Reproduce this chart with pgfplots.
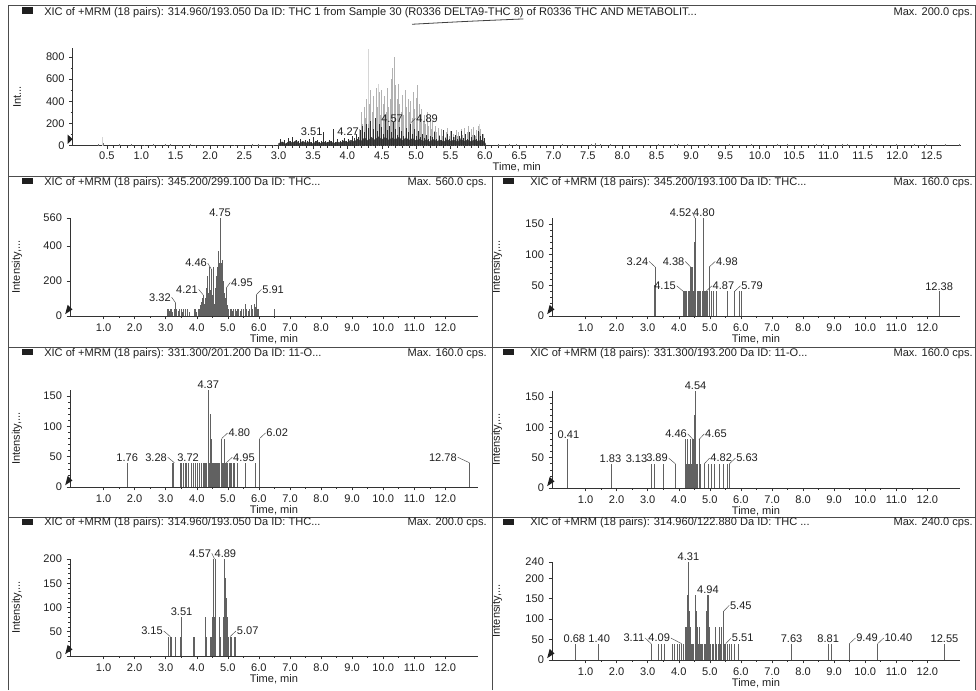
\documentclass[border=0pt]{standalone}
\usepackage{fontspec}
\setmainfont{Liberation Sans}
\usepackage{pgfplots}
\pgfplotsset{compat=1.18}
\newcommand\chf{\fontsize{8.3}{9.5}\selectfont}
\definecolor{ink}{gray}{0.12}
\newcommand\pkT[3]{\node[font=\chf, text=ink, anchor=south, inner sep=0.8pt] at (axis cs:#1,#2) {#3};}
\newcommand\pkL[4]{\draw[black!70, line width=0.35pt] (axis cs:#1,#2) -- ++(#4,4.2pt) node[anchor=east, inner sep=0.5pt, font=\chf, text=ink] {#3};}
\newcommand\pkR[4]{\draw[black!70, line width=0.35pt] (axis cs:#1,#2) -- ++(#4,4.2pt) node[anchor=west, inner sep=0.5pt, font=\chf, text=ink] {#3};}
\newcommand\tri{\fill[ink] (axis description cs:0,0) ++(-3.6pt,1.4pt) -- ++(0,7pt) -- ++(3.6pt,-3.5pt) -- cycle;}
\pgfplotsset{
  chrom/.style={
    scale only axis, clip=false,
    axis x line*=bottom, axis y line*=left,
    axis line style={black!80, line width=0.5pt, -},
    every tick/.style={black!80, line width=0.4pt},
    tick align=outside, major tick length=2.5pt, minor tick length=1.4pt,
    ymin=0, scaled ticks=false,
    /pgf/number format/assume math mode=true,
    tick label style={font=\chf, text=ink},
    label style={font=\chf, text=ink},
    xticklabel style={/pgf/number format/fixed, /pgf/number format/fixed zerofill, /pgf/number format/precision=1},
    yticklabel style={/pgf/number format/fixed, /pgf/number format/precision=0},
    xlabel={Time, min},
  },
  low/.style={chrom, width=306pt, xmin=-0.08, xmax=13.05,
    xtick={1,2,...,12}, minor x tick num=1, ylabel={Intensity,...},
    xlabel style={at={(axis description cs:0.5,-0.24)}, anchor=center},
    ylabel style={at={(axis description cs:-0.13,0.5)}, anchor=center}},
  stick/.style={ycomb, black!62, line width=0.6pt},
}
\begin{document}
\begin{tikzpicture}
\useasboundingbox (0,0) rectangle (732pt,517.5pt);
% ---------------- top panel ----------------
\begin{axis}[chrom, at={(54.4pt,408.2pt)}, anchor=south west,
  width=666.4pt, height=73.3pt, xmin=0, xmax=12.93, ymax=880,
  xtick={0.5,1,...,12.5}, minor x tick num=4,
  ytick={0,200,400,600,800}, minor y tick num=1,
  xticklabel style={yshift=1.2pt},
  ylabel={Int...},
  xlabel style={at={(axis description cs:0.5,-0.222)}, anchor=center},
  ylabel style={at={(axis description cs:-0.0625,0.5)}, anchor=center}]
\addplot[ycomb, black!16, line width=0.5pt] coordinates {(0.43,75)(4.30,875)(4.45,560)(5.92,200)};
\addplot[ycomb, black!55, line width=0.4pt] coordinates {
(0.38,15)(0.45,25)(0.68,12)(0.85,15)(1.05,8)(1.18,15)(1.35,18)(1.42,14)(1.60,10)(1.72,14)(1.78,10)(1.90,8)
(2.35,10)(2.62,14)(2.70,12)(2.92,10)(6.20,15)(6.35,20)(6.45,15)(6.62,10)(7.12,18)(7.55,15)(7.60,25)(7.68,18)
(7.82,12)(8.52,14)(8.75,20)(8.82,15)(8.95,14)(9.25,12)(9.55,12)(9.88,14)(10.25,12)(10.40,20)(10.82,14)
(10.92,18)(11.20,14)(11.28,20)(11.62,12)(11.98,14)(12.25,18)(12.42,14)(12.70,18)(12.90,20)};
\addplot[ycomb, black!30, line width=0.55pt] coordinates {
(4.18,150)(4.20,300)(4.22,200)(4.24,350)(4.26,250)(4.28,420)(4.30,200)(4.32,380)(4.34,500)(4.36,300)
(4.38,450)(4.40,250)(4.42,520)(4.44,350)(4.46,480)(4.48,280)(4.50,500)(4.52,380)(4.54,450)(4.56,300)
(4.58,520)(4.60,350)(4.62,420)(4.64,600)(4.66,700)(4.68,800)(4.70,550)(4.72,420)(4.74,560)(4.76,380)
(4.78,300)(4.80,460)(4.82,280)(4.84,500)(4.86,350)(4.88,420)(4.90,300)(4.92,400)(4.94,250)(4.96,480)
(4.98,330)(5.00,430)(5.02,550)(5.04,380)(5.06,250)(5.08,330)(5.10,220)(5.12,280)(5.14,200)(5.16,300)
(5.18,180)(5.20,250)(5.22,150)(5.24,220)(5.26,130)(5.28,180)(5.30,120)(5.32,160)(5.34,100)(5.36,150)
(5.38,90)(5.40,130)(5.42,80)(5.44,120)(5.46,160)(5.48,90)(5.50,130)(5.52,70)(5.54,110)(5.56,80)
(5.58,140)(5.60,90)(5.62,120)(5.64,70)(5.66,150)(5.68,100)(5.70,160)(5.72,80)(5.74,120)(5.76,180)
(5.78,90)(5.80,150)(5.82,100)(5.84,170)(5.86,90)(5.88,140)(5.90,180)(5.92,120)(5.94,150)(5.96,90)
(5.98,110)(6.00,60)};
\addplot[fill=black!75, draw=black!75, line width=0.3pt] coordinates {
(3.00,20)(3.05,35)(3.10,15)(3.15,40)(3.20,25)(3.25,45)(3.30,20)(3.35,40)(3.40,25)(3.45,35)(3.50,15)
(3.55,40)(3.60,20)(3.65,35)(3.70,25)(3.75,40)(3.80,20)(3.85,35)(3.90,25)(3.95,45)(4.00,30)(4.05,50)
(4.10,35)(4.15,60)(4.20,40)(4.25,70)(4.30,45)(4.35,75)(4.40,50)(4.45,80)(4.50,55)(4.55,75)(4.60,50)
(4.65,70)(4.70,55)(4.75,75)(4.80,45)(4.85,70)(4.90,50)(4.95,65)(5.00,45)(5.05,60)(5.10,40)(5.15,55)
(5.20,35)(5.25,55)(5.30,40)(5.35,50)(5.40,35)(5.45,55)(5.50,40)(5.55,50)(5.60,35)(5.65,55)(5.70,40)
(5.75,50)(5.80,35)(5.85,55)(5.90,40)(5.95,50)(6.00,30)(6.02,0)} \closedcycle;
\addplot[ycomb, black!82, line width=0.45pt] coordinates {
(3.02,60)(3.05,35)(3.08,50)(3.11,25)(3.14,70)(3.17,40)(3.20,75)(3.23,30)(3.26,55)(3.29,45)(3.32,65)
(3.35,30)(3.38,50)(3.41,40)(3.44,60)(3.47,35)(3.50,80)(3.53,40)(3.56,55)(3.59,30)(3.62,45)(3.65,120)
(3.68,40)(3.71,30)(3.74,55)(3.77,45)(3.80,150)(3.83,35)(3.86,60)(3.89,40)(3.92,50)(3.95,70)(3.98,45)
(4.01,60)(4.04,35)(4.07,90)(4.10,70)(4.13,110)(4.16,80)(4.19,140)(4.22,180)(4.25,120)(4.28,200)
(4.31,160)(4.34,220)(4.37,150)(4.40,250)(4.43,130)(4.46,200)(4.49,170)(4.52,110)(4.55,230)(4.58,140)
(4.61,180)(4.64,120)(4.67,210)(4.70,150)(4.73,100)(4.76,170)(4.79,130)(4.82,90)(4.85,160)(4.88,120)
(4.91,200)(4.94,110)(4.97,150)(5.00,90)(5.03,130)(5.06,80)(5.09,110)(5.12,70)(5.15,100)(5.18,60)
(5.21,90)(5.24,75)(5.27,120)(5.30,60)(5.33,85)(5.36,50)(5.39,140)(5.42,70)(5.45,110)(5.48,60)
(5.51,130)(5.54,80)(5.57,100)(5.60,60)(5.63,90)(5.66,130)(5.69,70)(5.72,110)(5.75,60)(5.78,120)
(5.81,80)(5.84,100)(5.87,60)(5.90,130)(5.93,90)(5.96,110)(5.99,70)};
\node[font=\chf, text=ink] at (axis cs:3.48,126) {3.51};
\node[font=\chf, text=ink] at (axis cs:4.01,126) {4.27};
\node[font=\chf, text=ink] at (axis cs:4.65,246) {4.57};
\node[font=\chf, text=ink, inner sep=0.6pt] (p489) at (axis cs:5.16,246) {4.89};
\draw[black!70, line width=0.35pt] (p489.west) -- ++(-3pt,-3pt);
\tri
\end{axis}
% ---------------- row 2 left ----------------
\begin{axis}[low, at={(52.5pt,280.5pt)}, anchor=south west, height=73.5pt,
  ymax=560, ytick={0,200,400,560}, minor y tick num=3]
\addplot[stick] coordinates {
(3.06,40)(3.09,40)(3.12,30)(3.15,40)(3.19,40)(3.23,25)(3.27,40)(3.32,75)(3.36,40)(3.40,30)(3.44,40)
(3.49,40)(3.53,25)(3.58,40)(3.62,40)(3.70,40)(3.75,20)(3.92,40)(3.96,40)(4.00,25)(4.04,40)(4.08,40)
(4.12,60)(4.15,80)(4.18,100)(4.21,120)(4.24,70)(4.27,100)(4.30,160)(4.33,230)(4.36,130)(4.39,200)
(4.42,280)(4.44,150)(4.46,270)(4.49,120)(4.52,280)(4.55,110)(4.58,70)(4.61,160)(4.64,230)(4.66,280)
(4.68,250)(4.70,370)(4.72,300)(4.75,560)(4.77,420)(4.79,300)(4.81,320)(4.83,240)(4.85,200)(4.87,170)
(4.89,130)(4.92,100)(4.95,160)(4.98,60)(5.03,40)(5.07,40)(5.11,40)(5.15,30)(5.19,40)(5.23,40)(5.27,30)
(5.31,40)(5.35,40)(5.40,30)(5.45,40)(5.50,40)(5.55,70)(5.60,40)(5.65,30)(5.70,40)(5.75,60)(5.80,40)
(5.85,70)(5.88,50)(5.91,120)(5.94,40)(5.98,40)(6.50,40)};
\pkT{4.75}{560}{4.75}
\pkL{4.46}{270}{4.46}{-2.5pt}
\pkL{4.21}{120}{4.21}{-3.5pt}
\pkL{3.32}{75}{3.32}{-3pt}
\pkR{4.95}{160}{4.95}{3pt}
\pkR{5.91}{120}{5.91}{4pt}
\tri
\end{axis}
% ---------------- row 2 right ----------------
\begin{axis}[low, at={(414pt,280.5pt)}, anchor=south west, height=73.5pt,
  ymax=160, ytick={0,50,100,150}, minor y tick num=4,
  ylabel style={at={(axis description cs:-0.135,0.5)}}]
\addplot[stick] coordinates {
(3.22,50)(3.24,80)(4.15,40)(4.18,40)(4.22,40)(4.26,40)(4.30,40)(4.34,40)(4.37,80)(4.39,80)(4.41,80)
(4.43,80)(4.45,80)(4.47,40)(4.50,120)(4.52,160)(4.55,40)(4.59,40)(4.63,40)(4.67,40)(4.71,40)(4.75,40)
(4.78,40)(4.80,160)(4.83,40)(4.86,40)(4.89,40)(4.93,40)(4.98,80)(5.05,40)(5.12,40)(5.22,40)(5.58,40)
(5.79,40)(5.95,40)(6.00,40)(12.38,40)};
\pkL{4.52}{160}{4.52}{-2pt}
\pkT{4.81}{160}{4.80}
\pkL{3.24}{80}{3.24}{-4.5pt}
\pkL{4.38}{80}{4.38}{-4pt}
\pkR{4.98}{80}{4.98}{4.5pt}
\pkL{4.15}{40}{4.15}{-5pt}
\pkR{4.87}{40}{4.87}{4.5pt}
\pkR{5.79}{40}{5.79}{4.5pt}
\pkT{12.38}{40}{12.38}
\tri
\end{axis}
% ---------------- row 3 left ----------------
\begin{axis}[low, at={(52.5pt,152.2pt)}, anchor=south west, height=72.75pt,
  ymax=160, ytick={0,50,100,150}, minor y tick num=4]
\addplot[stick] coordinates {
(1.76,40)(3.20,40)(3.26,40)(3.46,40)(3.50,40)(3.56,40)(3.62,40)(3.68,40)(3.74,40)(3.82,40)(3.88,40)
(3.95,40)(4.02,40)(4.08,40)(4.14,40)(4.20,40)(4.25,40)(4.29,40)(4.32,40)(4.37,160)(4.40,40)(4.43,120)
(4.45,80)(4.47,80)(4.50,40)(4.53,40)(4.56,40)(4.59,40)(4.62,40)(4.66,40)(4.70,40)(4.74,40)(4.80,80)
(4.83,40)(4.86,40)(4.88,80)(4.91,40)(4.95,40)(5.00,40)(5.04,40)(5.08,40)(5.12,40)(5.17,40)(5.22,40)
(5.30,40)(5.55,40)(5.88,40)(6.02,80)(12.78,40)};
\pkT{4.37}{160}{4.37}
\pkR{4.80}{80}{4.80}{4.5pt}
\pkR{6.02}{80}{6.02}{4.5pt}
\pkT{1.76}{40}{1.76}
\pkL{3.28}{40}{3.28}{-5pt}
\pkT{3.72}{40}{3.72}
\pkR{4.95}{40}{4.95}{4.5pt}
\pkL{12.78}{40}{12.78}{-9pt}
\tri
\end{axis}
% ---------------- row 3 right ----------------
\begin{axis}[low, at={(414pt,151.5pt)}, anchor=south west, height=72.75pt,
  ymax=160, ytick={0,50,100,150}, minor y tick num=4,
  ylabel style={at={(axis description cs:-0.135,0.5)}}]
\addplot[stick] coordinates {
(0.41,80)(1.83,40)(3.13,40)(3.22,40)(3.52,40)(3.89,40)(4.20,80)(4.22,40)(4.25,40)(4.28,80)(4.31,40)
(4.34,40)(4.36,80)(4.39,40)(4.43,80)(4.46,80)(4.49,120)(4.51,120)(4.54,160)(4.57,40)(4.60,40)(4.65,80)
(4.70,40)(4.82,40)(4.95,40)(5.05,40)(5.15,40)(5.30,40)(5.45,40)(5.55,40)(5.63,40)};
\pkT{4.54}{160}{4.54}
\pkT{0.45}{80}{0.41}
\pkT{1.80}{40}{1.83}
\pkT{2.64}{40}{3.13}
\pkL{3.89}{40}{3.89}{-5pt}
\pkL{4.46}{80}{4.46}{-4pt}
\pkR{4.65}{80}{4.65}{4pt}
\pkR{4.82}{40}{4.82}{4pt}
\pkR{5.63}{40}{5.63}{4.5pt}
\tri
\end{axis}
% ---------------- row 4 left ----------------
\begin{axis}[low, at={(52.5pt,25.5pt)}, anchor=south west, height=72.75pt,
  ymax=200, ytick={0,50,100,150,200}, minor y tick num=4]
\addplot[stick] coordinates {
(3.08,40)(3.15,40)(3.18,40)(3.32,40)(3.48,40)(3.51,80)(3.90,40)(3.93,40)(4.27,80)(4.30,40)(4.45,40)
(4.48,40)(4.51,80)(4.53,40)(4.55,200)(4.57,80)(4.60,200)(4.72,80)(4.75,40)(4.86,80)(4.88,80)(4.89,200)
(4.91,80)(4.93,160)(4.95,120)(4.97,80)(5.02,40)(5.07,40)(5.10,40)(5.20,40)(5.23,40)};
\pkL{4.57}{200}{4.57}{-2pt}
\pkT{4.92}{200}{4.89}
\pkT{3.51}{80}{3.51}
\pkL{3.15}{40}{3.15}{-5pt}
\pkR{5.07}{40}{5.07}{4.5pt}
\tri
\end{axis}
% ---------------- row 4 right ----------------
\begin{axis}[low, at={(414pt,22.5pt)}, anchor=south west, height=73.5pt,
  ymax=240, ytick={0,50,100,150,200,240}, minor y tick num=4,
  ylabel style={at={(axis description cs:-0.135,0.5)}}]
\addplot[stick] coordinates {
(0.68,40)(1.40,40)(3.11,40)(3.35,40)(3.45,40)(3.55,40)(3.80,40)(3.86,40)(3.95,40)(4.03,40)(4.09,40)
(4.15,40)(4.20,80)(4.24,80)(4.27,160)(4.29,120)(4.31,240)(4.33,120)(4.36,80)(4.40,40)(4.44,40)(4.48,40)
(4.52,80)(4.55,160)(4.57,120)(4.60,80)(4.63,40)(4.66,80)(4.69,40)(4.73,40)(4.77,40)(4.81,40)(4.85,40)
(4.89,120)(4.91,160)(4.94,160)(4.96,120)(4.99,80)(5.03,40)(5.08,40)(5.12,40)(5.17,80)(5.21,40)(5.26,40)
(5.30,80)(5.34,40)(5.38,80)(5.42,80)(5.45,120)(5.48,40)(5.51,40)(5.56,40)(5.62,40)(5.70,40)(5.80,40)
(5.92,40)(7.63,40)(8.81,40)(8.90,40)(9.49,40)(10.40,40)(12.55,40)};
\pkT{4.31}{240}{4.31}
\pkT{4.94}{160}{4.94}
\pkR{5.45}{120}{5.45}{4pt}
\pkT{0.64}{40}{0.68}
\pkT{1.44}{40}{1.40}
\pkL{3.11}{40}{3.11}{-4.5pt}
\pkL{4.09}{40}{4.09}{-8pt}
\pkR{5.51}{40}{5.51}{4pt}
\pkT{7.63}{40}{7.63}
\pkT{8.81}{40}{8.81}
\pkR{9.49}{40}{9.49}{4.5pt}
\pkR{10.40}{40}{10.40}{4.5pt}
\pkT{12.55}{40}{12.55}
\tri
\end{axis}
% ---------------- frame, separators, titles ----------------
\begin{scope}[black!70, line width=0.7pt]
\draw (6.4pt,0) -- (6.4pt,513.75pt) -- (732pt,513.75pt);
\draw (731.25pt,0) -- (731.25pt,513.75pt);
\draw (6.4pt,385.5pt) -- (731.25pt,385.5pt);
\draw (6.4pt,257.25pt) -- (731.25pt,257.25pt);
\draw (6.4pt,129.75pt) -- (731.25pt,129.75pt);
\draw (369pt,0) -- (369pt,385.5pt);
\end{scope}
\draw[black!75, line width=0.6pt] (309pt,499.3pt) .. controls (350pt,501.5pt) .. (392.5pt,503.3pt);
\begin{scope}[every node/.style={font=\chf, text=ink, inner sep=0}]
\fill[ink] (16.5pt,507pt) rectangle (24.75pt,512pt);
\node[anchor=west] at (33pt,507.75pt) {XIC of +MRM (18 pairs): 314.960/193.050 Da ID: THC 1 from Sample 30 (R0336 DELTA9-THC 8) of R0336 THC AND METABOLIT...};
\node[anchor=east] at (729.75pt,507.75pt) {Max. 200.0 cps.};
% row 2
\fill[ink] (16.5pt,379.5pt) rectangle (24.75pt,384pt);
\node[anchor=west] at (33pt,380.6pt) {XIC of +MRM (18 pairs): 345.200/299.100 Da ID: THC...};
\node[anchor=east] at (365.25pt,380.6pt) {Max. 560.0 cps.};
\fill[ink] (377.25pt,379.5pt) rectangle (385.5pt,384pt);
\node[anchor=west] at (397.5pt,380.6pt) {XIC of +MRM (18 pairs): 345.200/193.100 Da ID: THC...};
\node[anchor=east] at (729.75pt,380.6pt) {Max. 160.0 cps.};
% row 3
\fill[ink] (16.5pt,251.25pt) rectangle (24.75pt,255.75pt);
\node[anchor=west] at (33pt,252.4pt) {XIC of +MRM (18 pairs): 331.300/201.200 Da ID: 11-O...};
\node[anchor=east] at (365.25pt,252.4pt) {Max. 160.0 cps.};
\fill[ink] (377.25pt,251.25pt) rectangle (385.5pt,255.75pt);
\node[anchor=west] at (397.5pt,252.4pt) {XIC of +MRM (18 pairs): 331.300/193.200 Da ID: 11-O...};
\node[anchor=east] at (729.75pt,252.4pt) {Max. 160.0 cps.};
% row 4
\fill[ink] (16.5pt,123.75pt) rectangle (24.75pt,128.25pt);
\node[anchor=west] at (33pt,125.25pt) {XIC of +MRM (18 pairs): 314.960/193.050 Da ID: THC...};
\node[anchor=east] at (365.25pt,125.25pt) {Max. 200.0 cps.};
\fill[ink] (377.25pt,123.75pt) rectangle (385.5pt,128.25pt);
\node[anchor=west] at (397.5pt,125.25pt) {XIC of +MRM (18 pairs): 314.960/122.880 Da ID: THC ...};
\node[anchor=east] at (729.75pt,125.25pt) {Max. 240.0 cps.};
\end{scope}
\end{tikzpicture}
\end{document}
